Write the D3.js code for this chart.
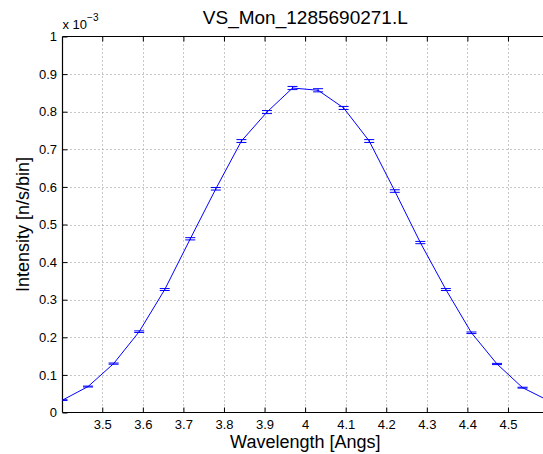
<!DOCTYPE html>
<html>
<head>
<meta charset="utf-8">
<script src="https://cdn.jsdelivr.net/npm/d3@7/dist/d3.min.js"></script>
<style>
  html, body { margin: 0; padding: 0; background: #fff; overflow: hidden; }
  svg { display: block; font-family: "Liberation Sans", Arial, Helvetica, sans-serif; }
</style>
</head>
<body>
<svg id="chart" width="543" height="454"></svg>
<script>
// Monitor spectrum: wavelength bins [Angs] and intensity (x 10^-3 n/s/bin)
const wavelength = [3.402, 3.465, 3.528, 3.591, 3.654, 3.717, 3.780, 3.843, 3.906, 3.969,
                    4.032, 4.095, 4.158, 4.221, 4.284, 4.347, 4.410, 4.473, 4.536, 4.599];
const intensity  = [0.033, 0.069, 0.130, 0.215, 0.327, 0.462, 0.595, 0.722, 0.799, 0.863,
                    0.857, 0.810, 0.722, 0.589, 0.452, 0.327, 0.212, 0.129, 0.066, 0.032];
const errors     = [0.0009, 0.0012, 0.0016, 0.0021, 0.0026, 0.0030, 0.0034, 0.0038, 0.0040, 0.0042,
                    0.0042, 0.0040, 0.0038, 0.0034, 0.0030, 0.0026, 0.0021, 0.0016, 0.0012, 0.0009];
const xTicks = [3.5, 3.6, 3.7, 3.8, 3.9, 4.0, 4.1, 4.2, 4.3, 4.4, 4.5];
const yTicks = [0, 0.1, 0.2, 0.3, 0.4, 0.5, 0.6, 0.7, 0.8, 0.9, 1];

const titleText = "VS_Mon_1285690271.L";
const xLabel = "Wavelength [Angs]";
const yLabel = "Intensity [n/s/bin]";

const svg = d3.select("#chart");
const axLeft = 62.5, axTop = 36.5, axBottom = 412.5;
const axRight = axLeft + (wavelength[wavelength.length - 1] - wavelength[0]) * 405.7;

const x = d3.scaleLinear().domain([wavelength[0], wavelength[wavelength.length - 1]]).range([axLeft, axRight]);
const y = d3.scaleLinear().domain([0, 1]).range([axBottom, axTop]);

// dotted grid
const grid = svg.append("g").attr("stroke", "#909090").attr("stroke-width", 1)
  .attr("stroke-dasharray", "1,3");
grid.selectAll("line.gx").data(xTicks).join("line")
  .attr("x1", d => Math.round(x(d)) + 0.5).attr("x2", d => Math.round(x(d)) + 0.5)
  .attr("y1", axTop).attr("y2", axBottom);
grid.selectAll("line.gy").data(yTicks.slice(1, -1)).join("line")
  .attr("y1", d => Math.round(y(d)) + 0.5).attr("y2", d => Math.round(y(d)) + 0.5)
  .attr("x1", axLeft).attr("x2", axRight);

// axes (ticks pointing inward, box on)
const tickLen = 5;
const xAxis = d3.axisBottom(x).tickValues(xTicks).tickSize(-tickLen).tickPadding(7)
  .tickFormat(d3.format("~g"));
const yAxis = d3.axisLeft(y).tickValues(yTicks).tickSize(-tickLen).tickPadding(5.5)
  .tickFormat(d3.format("~g"));
const xTop = d3.axisTop(x).tickValues(xTicks).tickSize(-tickLen).tickFormat("");

function styleAxis(g) {
  g.select(".domain").attr("stroke", "#000").attr("stroke-width", 1.2);
  g.selectAll(".tick line").attr("stroke", "#000").attr("stroke-width", 1);
  g.selectAll(".tick text").attr("fill", "#000").attr("font-size", 13)
    .attr("font-family", "Liberation Sans, Arial, sans-serif");
}
svg.append("g").attr("transform", `translate(0,${axBottom})`).call(xAxis).call(styleAxis)
  .call(g => g.select(".domain").attr("d", `M${axLeft},0H${axRight}`));
svg.append("g").attr("transform", `translate(${axLeft},0)`).call(yAxis).call(styleAxis)
  .call(g => g.select(".domain").attr("d", `M0,${axTop}V${axBottom}`));
svg.append("g").attr("transform", `translate(0,${axTop})`).call(xTop).call(styleAxis)
  .call(g => g.select(".domain").attr("d", `M${axLeft},0H${axRight}`));

// clip region for the data
svg.append("clipPath").attr("id", "plotclip").append("rect")
  .attr("x", axLeft).attr("y", axTop).attr("width", axRight - axLeft).attr("height", axBottom - axTop);

const blue = "#0000ff";
const plot = svg.append("g").attr("clip-path", "url(#plotclip)");

const pts = wavelength.map((w, i) => ({ w, v: intensity[i], e: errors[i] }));

plot.append("path").datum(pts)
  .attr("fill", "none").attr("stroke", blue).attr("stroke-width", 1)
  .attr("d", d3.line().x(d => x(d.w)).y(d => y(d.v)));

// error bars
const capHalf = 5;
const eb = plot.append("g").attr("stroke", blue).attr("stroke-width", 1);
eb.selectAll("line.v").data(pts).join("line")
  .attr("x1", d => x(d.w)).attr("x2", d => x(d.w))
  .attr("y1", d => y(d.v - d.e)).attr("y2", d => y(d.v + d.e));
eb.selectAll("line.lo").data(pts).join("line")
  .attr("x1", d => x(d.w) - capHalf).attr("x2", d => x(d.w) + capHalf)
  .attr("y1", d => y(d.v - d.e)).attr("y2", d => y(d.v - d.e));
eb.selectAll("line.hi").data(pts).join("line")
  .attr("x1", d => x(d.w) - capHalf).attr("x2", d => x(d.w) + capHalf)
  .attr("y1", d => y(d.v + d.e)).attr("y2", d => y(d.v + d.e));

// title and labels
const mid = (axLeft + axRight) / 2;
svg.append("text").attr("x", mid).attr("y", 24).attr("text-anchor", "middle")
  .attr("font-size", 19).attr("fill", "#000").text(titleText);
svg.append("text").attr("x", mid).attr("y", 448).attr("text-anchor", "middle")
  .attr("font-size", 18).attr("fill", "#000").text(xLabel);
svg.append("text").attr("transform", `translate(29,${(axTop + axBottom) / 2}) rotate(-90)`)
  .attr("text-anchor", "middle").attr("font-size", 18).attr("fill", "#000").text(yLabel);

// exponent multiplier
const mult = svg.append("text").attr("x", axLeft).attr("y", 29).attr("font-size", 13).attr("fill", "#000");
mult.append("tspan").text("x 10");
mult.append("tspan").attr("dy", -8).attr("font-size", 10).text("\u22123");
</script>
</body>
</html>
